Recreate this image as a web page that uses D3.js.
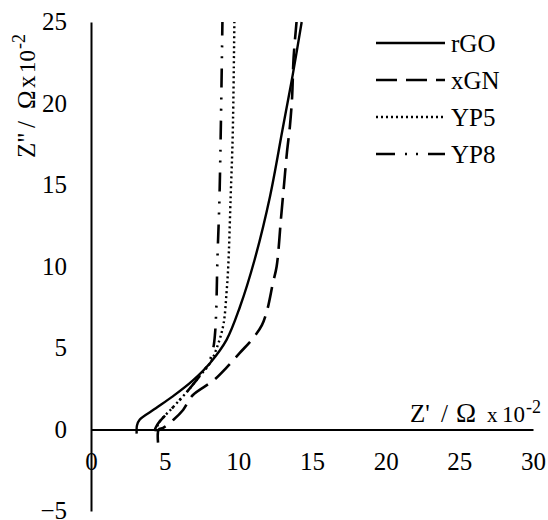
<!DOCTYPE html>
<html>
<head>
<meta charset="utf-8">
<script src="https://cdn.jsdelivr.net/npm/d3@7/dist/d3.min.js"></script>
<style>
  html, body { margin: 0; padding: 0; background: #fff; }
</style>
</head>
<body>
<svg id="chart" width="548" height="520"></svg>
<script>
// ---- data (Z' and Z'' in Ω x 10^-2) ----
const seriesNames = ["rGO", "xGN", "YP5", "YP8"];
const rGO = [[3.1,-0.25],[3.12,0.25],[3.3,0.6],[4.4,1.3],[5.5,2.0],[6.9,3.0],[8.1,4.1],[9.2,5.5],[10.1,7.5],[11.1,10.4],[12.15,14.3],[13.0,18.4],[13.7,21.8],[14.3,25]];
const xGN = [[4.55,-0.8],[4.6,0.0],[4.9,0.1],[5.6,0.6],[6.25,1.2],[6.9,2.1],[8.3,3.0],[9.2,3.8],[10.1,4.7],[11.0,5.6],[11.6,6.4],[11.95,7.3],[12.35,9.0],[12.6,10.0],[12.9,13.0],[13.1,15.0],[13.3,17.0],[13.5,18.6],[13.65,20.4],[13.75,22.8],[13.95,25]];
const YP5 = [[4.4,-0.1],[4.6,0.4],[5.6,1.4],[6.6,2.4],[7.3,3.2],[8.1,4.1],[8.65,5.3],[9.0,6.5],[9.2,8.4],[9.32,10.1],[9.48,14.3],[9.62,18.1],[9.73,25]];
const YP8 = [[4.3,-0.1],[4.5,0.3],[5.5,1.3],[6.5,2.3],[7.4,3.3],[8.0,4.1],[8.3,5.0],[8.42,5.9],[8.5,7.3],[8.58,10.4],[8.71,13.9],[8.8,17.9],[8.92,25]];
const xTicks = [0, 5, 10, 15, 20, 25, 30];
const yTicks = [-5, 0, 5, 10, 15, 20, 25];

const seriesData = [rGO, xGN, YP5, YP8];
const dashes = [null, "21,9", "2,3", "19,10,2,9,2,10"];
const widths = [2.4, 2.6, 2.4, 2.6];
const FONT = "'Liberation Serif', 'Times New Roman', 'DejaVu Serif', serif";

const svg = d3.select("#chart");
const x = d3.scaleLinear().domain([0, 30]).range([91, 533]);
const y = d3.scaleLinear().domain([-5, 25]).range([511, 22]);

// axes crossing at origin
const xAxis = d3.axisBottom(x).tickValues(xTicks).tickSize(0).tickPadding(23).tickFormat(d3.format("d"));
const yAxis = d3.axisLeft(y).tickValues(yTicks).tickSize(0).tickPadding(24).tickFormat(d3.format("d"));

const gx = svg.append("g").attr("transform", `translate(0,${y(0)})`).call(xAxis);
const gy = svg.append("g").attr("transform", `translate(${x(0)},0)`).call(yAxis);
[gx, gy].forEach(g => {
  g.attr("font-family", FONT).attr("font-size", 25);
  g.select(".domain").attr("stroke", "#000").attr("stroke-width", 2);
  g.selectAll("text").style("font-family", FONT).style("font-size", "25px").attr("fill", "#000");
});
gx.selectAll("text").attr("dy", "0.71em");
gy.selectAll("text").attr("dy", "0.3em");

// lines
const line = d3.line().x(d => x(d[0])).y(d => y(d[1])).curve(d3.curveCatmullRom.alpha(0.5));
seriesData.forEach((data, i) => {
  svg.append("path")
    .datum(data)
    .attr("d", line)
    .attr("fill", "none")
    .attr("stroke", "#000")
    .attr("stroke-width", widths[i])
    .attr("stroke-dasharray", dashes[i]);
});

// legend
const legendRows = [43, 80, 117, 154];
seriesNames.forEach((name, i) => {
  svg.append("line")
    .attr("x1", 376).attr("x2", 445)
    .attr("y1", legendRows[i]).attr("y2", legendRows[i])
    .attr("stroke", "#000")
    .attr("stroke-width", widths[i])
    .attr("stroke-dasharray", dashes[i]);
  svg.append("text")
    .attr("x", 451).attr("y", legendRows[i]).attr("dy", "0.35em")
    .style("font-family", FONT)
    .style("font-size", "25px")
    .text(name);
});

// axis titles
const xt = svg.append("text").attr("y", 422)
  .style("font-family", FONT).style("font-size", "25px");
xt.append("tspan").attr("x", 410).text("Z'");
xt.append("tspan").attr("x", 441).text("/");
xt.append("tspan").attr("x", 456).style("font-size", "27px").text("Ω");
xt.append("tspan").attr("x", 487).style("font-size", "21px").text("x");
xt.append("tspan").attr("x", 502).style("font-size", "23px").text("10");
xt.append("tspan").attr("x", 526).attr("dy", "-9").style("font-size", "18px").text("-2");

const yt = svg.append("text").attr("transform", "translate(35,158) rotate(-90)")
  .style("font-family", FONT).style("font-size", "25px");
yt.append("tspan").attr("x", 0).text("Z\"");
yt.append("tspan").attr("x", 30).text("/");
yt.append("tspan").attr("x", 49).text("Ω");
yt.append("tspan").attr("x", 70).text("x");
yt.append("tspan").attr("x", 85).style("font-size", "23px").text("10");
yt.append("tspan").attr("x", 109).attr("dy", "-10").style("font-size", "18px").text("-2");
</script>
</body>
</html>
